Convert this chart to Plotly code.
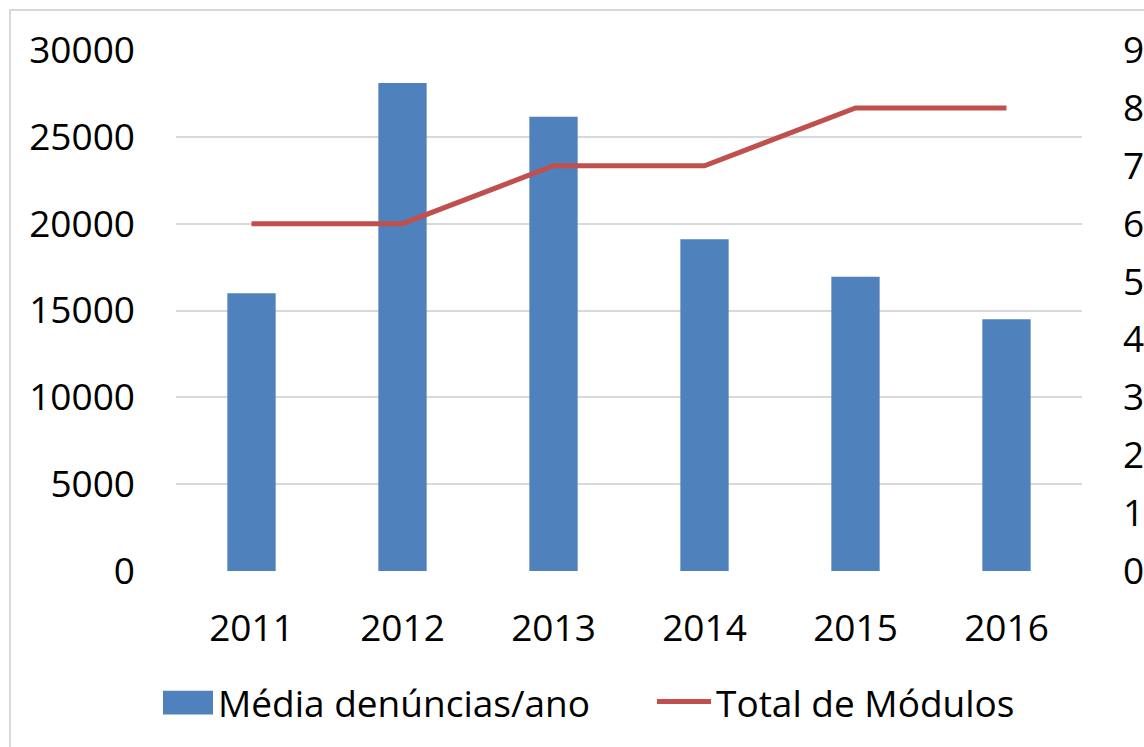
import plotly.graph_objects as go

years = ["2011", "2012", "2013", "2014", "2015", "2016"]
media_denuncias = [16000, 28100, 26150, 19100, 16950, 14500]
total_modulos = [6, 6, 7, 7, 8, 8]
bar_name = "Média denúncias/ano"
line_name = "Total de Módulos"

BAR_COLOR = "#4F81BD"
LINE_COLOR = "#C0504D"
FONT = "Open Sans"

# plot area in pixels
L, R, T, B = 176, 1082, 50, 571.3
W, H = 1144, 747


def px(x):
    return (x - L) / (R - L)


def py(y):
    return (B - y) / (B - T)


fig = go.Figure()
fig.add_trace(go.Bar(
    x=years, y=media_denuncias, name=bar_name,
    marker=dict(color=BAR_COLOR, line=dict(width=0)), width=0.32, yaxis="y"))
fig.add_trace(go.Scatter(
    x=years, y=total_modulos, name=line_name, mode="lines",
    line=dict(color=LINE_COLOR, width=5), yaxis="y2"))

shapes = [
    dict(type="rect", xref="paper", yref="paper",
         x0=px(10), x1=px(1200), y0=py(800), y1=py(10),
         line=dict(color="#D9D9D9", width=2), fillcolor="rgba(0,0,0,0)", layer="below"),
    # legend keys
    dict(type="rect", xref="paper", yref="paper",
         x0=px(163), x1=px(213), y0=py(715), y1=py(691),
         line=dict(width=0), fillcolor=BAR_COLOR),
    dict(type="line", xref="paper", yref="paper",
         x0=px(657), x1=px(711), y0=py(702), y1=py(702),
         line=dict(color=LINE_COLOR, width=5)),
]
annotations = [
    dict(xref="paper", yref="paper", x=px(216), y=py(703), xanchor="left", yanchor="middle",
         text=bar_name, showarrow=False, font=dict(family=FONT, size=37, color="black")),
    dict(xref="paper", yref="paper", x=px(714), y=py(703), xanchor="left", yanchor="middle",
         text=line_name, showarrow=False, font=dict(family=FONT, size=37, color="black")),
]

fig.update_layout(
    width=W, height=H,
    margin=dict(l=L, r=W - R, t=T, b=H - B, autoexpand=False),
    paper_bgcolor="white", plot_bgcolor="white",
    font=dict(family=FONT, size=37, color="black"),
    showlegend=False,
    xaxis=dict(type="category", showgrid=False, showline=False, zeroline=False,
               automargin=False, ticks="", ticklabelstandoff=32, tickfont=dict(size=37)),
    yaxis=dict(range=[0, 30000], dtick=5000, tickformat="d", showgrid=True,
               gridcolor="#D9D9D9", gridwidth=2, zeroline=False, showline=False,
               automargin=False, ticks="", ticklabelstandoff=40, tickfont=dict(size=37)),
    yaxis2=dict(range=[0, 9], dtick=1, overlaying="y", side="right", showgrid=False,
                zeroline=False, showline=False, automargin=False, ticks="",
                ticklabelstandoff=40, tickfont=dict(size=37)),
    shapes=shapes,
    annotations=annotations,
)

fig.write_html("out.html", config={"displayModeBar": False},
               post_script="document.body.style.margin='0';document.body.style.overflow='hidden';")
